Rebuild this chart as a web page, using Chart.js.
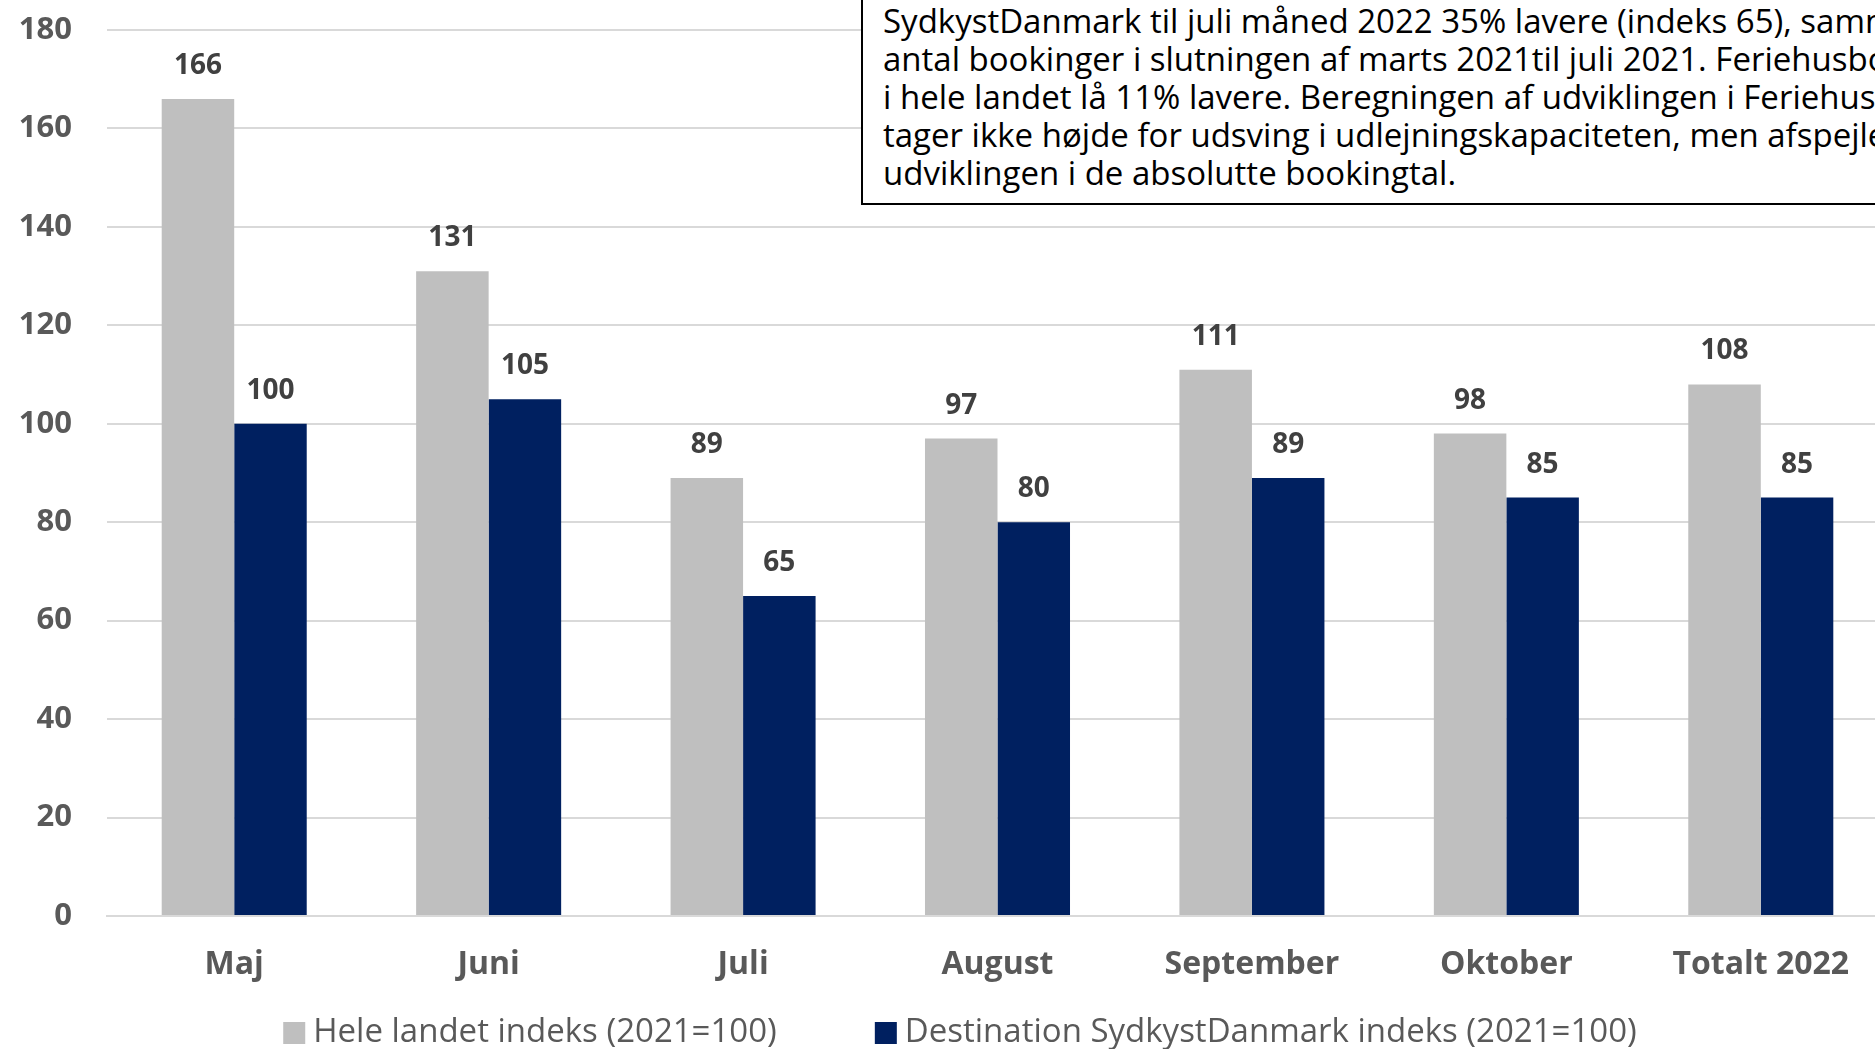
<!DOCTYPE html>
<html>
<head>
<meta charset="utf-8">
<script src="https://cdn.jsdelivr.net/npm/chart.js@4.4.0/dist/chart.umd.min.js"></script>
<style>
  html, body { margin: 0; padding: 0; overflow: hidden; background: #fff; }
  #wrap { position: relative; width: 1875px; height: 1049px; overflow: hidden; }
  #chart { position: absolute; left: 0; top: 0; }
  #note {
    position: absolute; left: 861px; top: -20px; width: 1100px; height: 225px;
    box-sizing: border-box; border: 2px solid #000; background: #fff;
    padding: 20px 0 0 20px;
    font: 33px/38px "Open Sans", sans-serif; color: #000; white-space: nowrap;
  }
</style>
</head>
<body>
<div id="wrap">
  <canvas id="chart" width="1890" height="1049"></canvas>
  <div id="note"></div>
</div>
<script>
const categories = ["Maj", "Juni", "Juli", "August", "September", "Oktober", "Totalt 2022"];
const heleLandet = [166, 131, 89, 97, 111, 98, 108];
const sydkystDanmark = [100, 105, 65, 80, 89, 85, 85];
const seriesLabels = ["Hele landet indeks (2021=100)", "Destination SydkystDanmark indeks (2021=100)"];
const yTicks = [0, 20, 40, 60, 80, 100, 120, 140, 160, 180];
const noteLines = [
  "SydkystDanmark til juli måned 2022 35% lavere (indeks 65), sammenlignet med",
  "antal bookinger i slutningen af marts 2021til juli 2021. Feriehusbookingerne",
  "i hele landet lå 11% lavere. Beregningen af udviklingen i Feriehusbookinger",
  "tager ikke højde for udsving i udlejningskapaciteten, men afspejler",
  "udviklingen i de absolutte bookingtal."
];

document.getElementById("note").innerHTML = noteLines.map(l => `<div>${l}</div>`).join("");

// values above the bars
const barValueLabels = {
  id: "barValueLabels",
  afterDatasetsDraw(chart) {
    const ctx = chart.ctx;
    ctx.save();
    ctx.font = "bold 28px 'Open Sans'";
    ctx.fillStyle = "#404040";
    ctx.textAlign = "center";
    ctx.textBaseline = "middle";
    chart.data.datasets.forEach((ds, i) => {
      chart.getDatasetMeta(i).data.forEach((bar, j) => {
        ctx.fillText(ds.data[j], bar.x, bar.y - 33);
      });
    });
    ctx.restore();
  }
};

// legend row under the axis labels, built from the datasets
const bottomLegend = {
  id: "bottomLegend",
  afterDraw(chart) {
    const ctx = chart.ctx;
    const box = 22, textGap = 8, itemGap = 98;
    const centerX = 960, centerY = 1033;
    ctx.save();
    ctx.font = "33px 'Open Sans'";
    ctx.textBaseline = "middle";
    const items = chart.data.datasets.map(ds => ({
      text: ds.label, color: ds.backgroundColor, w: ctx.measureText(ds.label).width
    }));
    const total = items.reduce((s, it) => s + box + textGap + it.w, 0) + itemGap * (items.length - 1);
    let x = centerX - total / 2;
    items.forEach(it => {
      ctx.fillStyle = it.color;
      ctx.fillRect(x, centerY - box / 2, box, box);
      ctx.fillStyle = "#595959";
      ctx.fillText(it.text, x + box + textGap, centerY);
      x += box + textGap + it.w + itemGap;
    });
    ctx.restore();
  }
};

new Chart(document.getElementById("chart"), {
  type: "bar",
  data: {
    labels: categories,
    datasets: [
      { label: seriesLabels[0], data: heleLandet, backgroundColor: "#bfbfbf" },
      { label: seriesLabels[1], data: sydkystDanmark, backgroundColor: "#002060" }
    ]
  },
  options: {
    responsive: false,
    animation: false,
    layout: { padding: { top: 0, left: 0, right: 2, bottom: 58 } },
    datasets: { bar: { barPercentage: 1, categoryPercentage: 0.57 } },
    plugins: {
      tooltip: { enabled: false },
      legend: { display: false }
    },
    scales: {
      x: {
        grid: { display: false },
        border: { color: "#d9d9d9", width: 2 },
        ticks: {
          color: "#595959",
          padding: 22,
          font: { family: "Open Sans", size: 32, weight: "bold" }
        },
        afterFit(scale) { scale.height = 75; }
      },
      y: {
        min: 0,
        max: 180,
        afterBuildTicks(scale) { scale.ticks = yTicks.map(v => ({ value: v })); },
        grid: { color: "#d9d9d9", lineWidth: 2, drawTicks: false },
        border: { display: false },
        ticks: {
          color: "#595959",
          padding: 35,
          font: { family: "Open Sans", size: 31, weight: "bold" }
        },
        afterFit(scale) {
          scale.width = 107;
          scale.paddingTop = 30;
          scale.paddingBottom = 0;
        }
      }
    }
  },
  plugins: [barValueLabels, bottomLegend]
});
</script>
</body>
</html>
